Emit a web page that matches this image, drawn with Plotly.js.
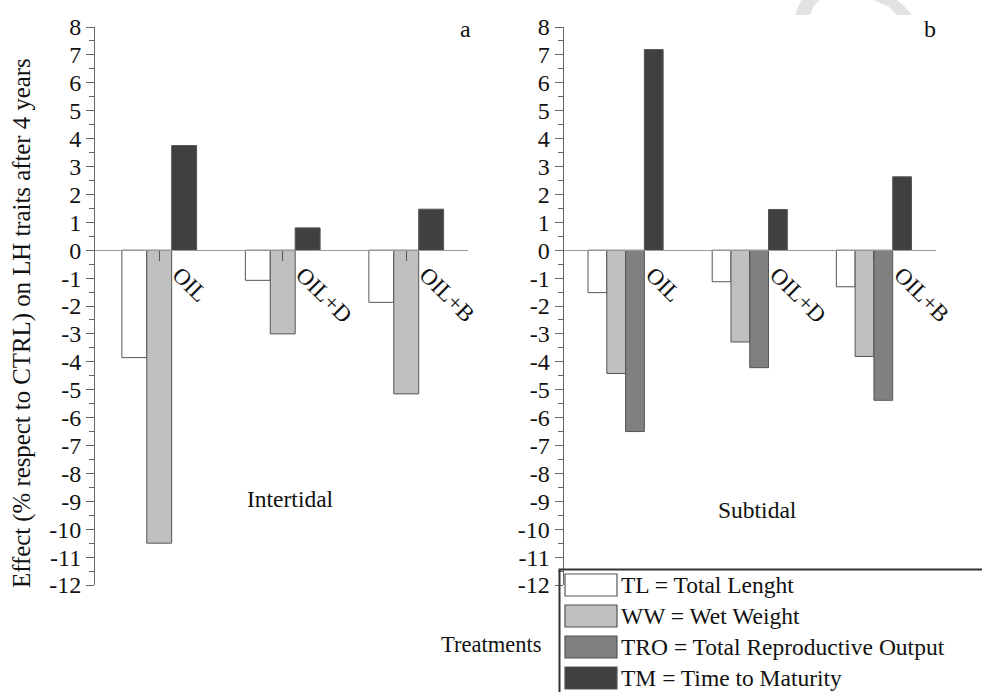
<!DOCTYPE html>
<html>
<head>
<meta charset="utf-8">
<script src="https://cdn.plot.ly/plotly-3.0.1.min.js"></script>
<style>
  html, body { margin: 0; padding: 0; background: #ffffff; }
  #chart { width: 982px; height: 692px; }
</style>
</head>
<body>
<div id="chart"></div>
<script>
// ---------------- data ----------------
const categories = ['OIL', 'OIL+D', 'OIL+B'];

// Panel a: Intertidal (no TRO bars)
const intertidalTL = [-3.85, -1.08, -1.87];
const intertidalWW = [-10.5, -3.0, -5.15];
const intertidalTM = [3.75, 0.80, 1.47];

// Panel b: Subtidal
const subtidalTL  = [-1.52, -1.13, -1.31];
const subtidalWW  = [-4.42, -3.29, -3.81];
const subtidalTRO = [-6.5, -4.21, -5.38];
const subtidalTM  = [7.19, 1.46, 2.63];

const yTickVals = [8, 7, 6, 5, 4, 3, 2, 1, 0, -1, -2, -3, -4, -5, -6, -7, -8, -9, -10, -11, -12];
const yTickText = ['8', '7', '6', '5', '4', '3', '2', '1', '0', '-1', '-2', '-3', '-4', '-5', '-6', '-7', '-8', '-9', '-10', '-11', '-12'];

const seriesNames  = ['TL', 'WW', 'TRO', 'TM'];
const legendLabels = ['TL = Total Lenght', 'WW = Wet Weight', 'TRO = Total Reproductive Output', 'TM = Time to Maturity'];
const seriesColors = ['#ffffff', '#c0c0c0', '#808080', '#404040'];
const yTitle = 'Effect (% respect to CTRL) on LH traits after 4 years';

// ---------------- layout helpers ----------------
const W = 982, H = 692, ML = 95, MR = 46, MT = 27, MB = 107;
const px2x = p => (p - ML) / (W - ML - MR);
const py2y = p => (H - MB - p) / (H - MT - MB);
const FONT = 'Liberation Serif';
const outline = { color: '#555555', width: 1 };

function bar(name, colorIdx, y, xa, ya) {
  return {
    type: 'bar', name: name, x: categories, y: y,
    xaxis: xa, yaxis: ya, showlegend: false,
    marker: { color: seriesColors[colorIdx], line: outline },
    hoverinfo: 'x+y+name'
  };
}

const traces = [
  bar(seriesNames[0], 0, intertidalTL, 'x', 'y'),
  bar(seriesNames[1], 1, intertidalWW, 'x', 'y'),
  bar(seriesNames[3], 3, intertidalTM, 'x', 'y'),
  bar(seriesNames[0], 0, subtidalTL, 'x2', 'y2'),
  bar(seriesNames[1], 1, subtidalWW, 'x2', 'y2'),
  bar(seriesNames[2], 2, subtidalTRO, 'x2', 'y2'),
  bar(seriesNames[3], 3, subtidalTM, 'x2', 'y2')
];

const xCommon = {
  type: 'category', anchor: 'free', position: 0.6,
  showline: true, linecolor: '#9a9a9a', linewidth: 1,
  ticks: 'outside', ticklen: 10, tickcolor: '#555555', tickwidth: 1,
  tickangle: 45, ticklabelstandoff: -9,
  tickfont: { family: FONT, size: 23, color: '#111111' },
  showgrid: false, zeroline: false, automargin: false, fixedrange: true
};
const yCommon = {
  range: [-12, 8], tickmode: 'array', tickvals: yTickVals, ticktext: yTickText,
  showline: true, linecolor: '#666666', linewidth: 1,
  ticks: 'outside', ticklen: 8, tickcolor: '#666666', tickwidth: 1,
  ticklabelstandoff: 0,
  minor: { tickmode: 'linear', tick0: 0.5, dtick: 1, ticks: 'outside', ticklen: 5, tickcolor: '#666666' },
  tickfont: { family: FONT, size: 24, color: '#111111' },
  showgrid: false, zeroline: false, automargin: false, fixedrange: true
};

const annotations = [];
function ann(text, xpx, ypx, xanchor, size, angle) {
  annotations.push({
    text: text, xref: 'paper', yref: 'paper', x: px2x(xpx), y: py2y(ypx),
    xanchor: xanchor || 'center', yanchor: 'middle', showarrow: false,
    textangle: angle || 0,
    font: { family: FONT, size: size || 23, color: '#111111' }
  });
}
ann(yTitle, 22, 323, 'center', 24.8, -90);
ann('a', 465, 29, 'center', 24);
ann('b', 930, 29, 'center', 24);
ann('Intertidal', 290, 499, 'center', 23.5);
ann('Subtidal', 757, 510, 'center', 23.5);
ann('Treatments', 491, 644, 'center', 22.5);

const shapes = [];
// legend box
shapes.push({
  type: 'rect', xref: 'paper', yref: 'paper',
  x0: px2x(559.5), x1: px2x(1000), y0: py2y(569.5), y1: py2y(710),
  line: { color: '#333333', width: 2 }, fillcolor: 'rgba(0,0,0,0)'
});
const rowTops = [574, 605, 636, 667];
legendLabels.forEach((lab, i) => {
  shapes.push({
    type: 'rect', xref: 'paper', yref: 'paper',
    x0: px2x(565), x1: px2x(617), y0: py2y(rowTops[i] + 22), y1: py2y(rowTops[i]),
    line: { color: '#555555', width: 1.2 }, fillcolor: seriesColors[i]
  });
  ann(legendLabels[i], 619, rowTops[i] + 11, 'left', 23.5);
});

// faint watermark arc at the top edge
function pathFrom(pts) {
  return 'M' + pts.map(p => px2x(p[0]).toFixed(5) + ',' + py2y(p[1]).toFixed(5)).join(' L') + ' Z';
}
shapes.push({
  type: 'path', xref: 'paper', yref: 'paper', layer: 'below',
  path: pathFrom([[795, 15], [798, 7], [802, -1], [820, -1], [814, 6], [810, 15]]),
  fillcolor: '#e2e2e2', line: { width: 0 }
});
shapes.push({
  type: 'path', xref: 'paper', yref: 'paper', layer: 'below',
  path: pathFrom([[872, -1], [896, -1], [905, 7], [912, 15], [897, 15], [889, 7]]),
  fillcolor: '#e2e2e2', line: { width: 0 }
});

const layout = {
  width: W, height: H,
  margin: { l: ML, r: MR, t: MT, b: MB, pad: 0 },
  paper_bgcolor: '#ffffff', plot_bgcolor: 'rgba(0,0,0,0)',
  barmode: 'group', bargap: 0.395, bargroupgap: 0,
  showlegend: false,
  font: { family: FONT, size: 23, color: '#111111' },
  xaxis: Object.assign({}, xCommon, { domain: [0, px2x(468)], range: [-0.52, 2.5], ticklabelshift: 20 }),
  xaxis2: Object.assign({}, xCommon, { domain: [px2x(563.5), 1], range: [-0.5, 2.5], ticklabelshift: 27 }),
  yaxis: Object.assign({}, yCommon, { anchor: 'x', domain: [0, 1] }),
  yaxis2: Object.assign({}, yCommon, { anchor: 'x2', domain: [0, 1] }),
  annotations: annotations,
  shapes: shapes
};

Plotly.newPlot('chart', traces, layout, { displayModeBar: false, staticPlot: true });
</script>
</body>
</html>
